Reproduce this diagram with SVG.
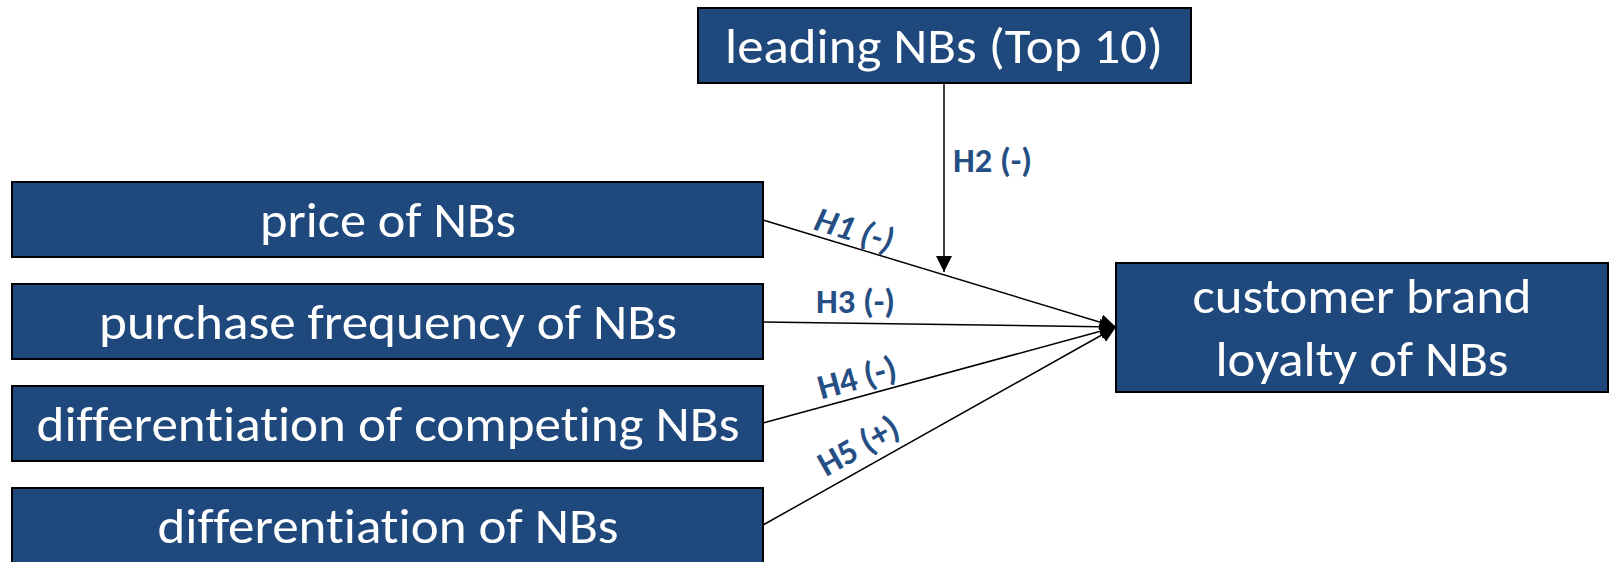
<svg xmlns="http://www.w3.org/2000/svg" width="1610" height="562" viewBox="0 0 1610 562">
<style>
.box{fill:#1F497D;stroke:#000;stroke-width:2}
.nt{font-family:Carlito,Lato,"Open Sans",sans-serif;font-size:50px;fill:#fff;text-anchor:middle;font-variant-ligatures:none}
.lbl{font-family:Carlito,Lato,"Open Sans",sans-serif;font-size:35px;font-weight:bold;fill:#254F84;font-variant-ligatures:none}
.edge{stroke:#000;stroke-width:1.5;fill:none;marker-end:url(#ah)}
</style>
<defs>
<marker id="ah" markerUnits="userSpaceOnUse" markerWidth="16" markerHeight="16" refX="16" refY="8" orient="auto" viewBox="0 0 16 16">
<path d="M0,0 L16,8 L0,16 z" fill="#000"/>
</marker>
</defs>
<rect width="1610" height="562" fill="#fff"/>
<g id="connectors">
<line class="edge" x1="944" y1="83" x2="944" y2="272"/>
<line class="edge" x1="763" y1="220" x2="1116" y2="327"/>
<line class="edge" x1="763" y1="322" x2="1116" y2="327"/>
<line class="edge" x1="763" y1="423" x2="1116" y2="327"/>
<line class="edge" x1="763" y1="525" x2="1116" y2="327"/>
<text class="lbl" x="953" y="172" textLength="79" lengthAdjust="spacingAndGlyphs">H2 (-)</text>
<text class="lbl" x="816" y="313" textLength="79" lengthAdjust="spacingAndGlyphs">H3 (-)</text>
<text class="lbl" text-anchor="middle" font-style="italic" transform="translate(851,241) rotate(16.9)">H1 (-)</text>
<text class="lbl" text-anchor="middle" transform="translate(860,389) rotate(-15.3)">H4 (-)</text>
<text class="lbl" text-anchor="middle" transform="translate(864,456) rotate(-29.4)">H5 (+)</text>
</g>
<g id="leading">
<rect class="box" x="698" y="8" width="493" height="75"/>
<text class="nt" x="944" y="63" textLength="438" lengthAdjust="spacingAndGlyphs">leading NBs (Top 10)</text>
</g>
<g id="price">
<rect class="box" x="12" y="182" width="751" height="75"/>
<text class="nt" x="388" y="237" textLength="256" lengthAdjust="spacingAndGlyphs">price of NBs</text>
</g>
<g id="purchase">
<rect class="box" x="12" y="284" width="751" height="75"/>
<text class="nt" x="388" y="339" textLength="578" lengthAdjust="spacingAndGlyphs">purchase frequency of NBs</text>
</g>
<g id="competing">
<rect class="box" x="12" y="386" width="751" height="75"/>
<text class="nt" x="388" y="441" textLength="703" lengthAdjust="spacingAndGlyphs">differentiation of competing NBs</text>
</g>
<g id="diffnbs">
<rect class="box" x="12" y="488" width="751" height="76"/>
<text class="nt" x="388" y="543" textLength="461" lengthAdjust="spacingAndGlyphs">differentiation of NBs</text>
</g>
<g id="loyalty">
<rect class="box" x="1116" y="263" width="492" height="129"/>
<text class="nt" x="1362" y="313" textLength="339" lengthAdjust="spacingAndGlyphs">customer brand</text>
<text class="nt" x="1362" y="376" textLength="293" lengthAdjust="spacingAndGlyphs">loyalty of NBs</text>
</g>
</svg>
